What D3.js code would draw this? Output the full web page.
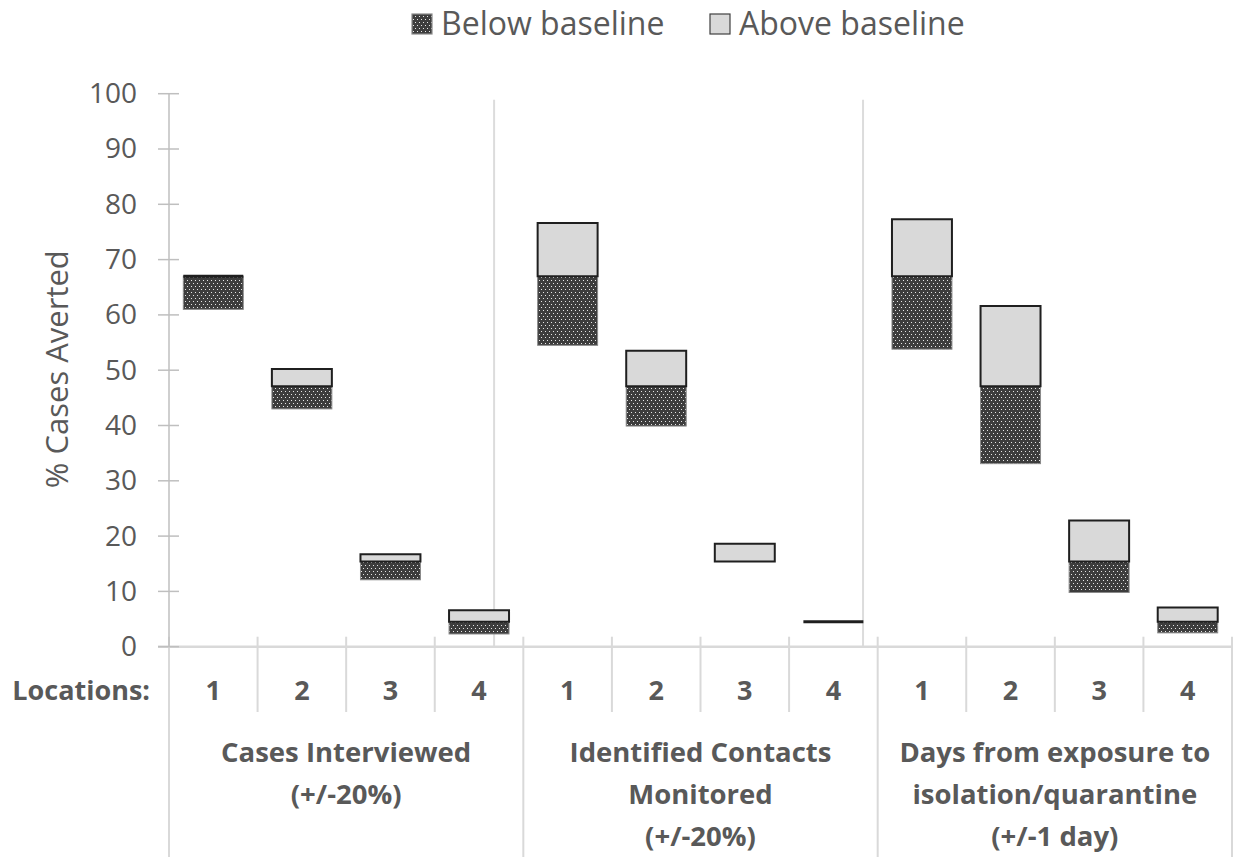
<!DOCTYPE html>
<html>
<head>
<meta charset="utf-8">
<script src="https://cdn.jsdelivr.net/npm/d3@7"></script>
<style>
  html, body { margin: 0; padding: 0; background: #fff; }
  svg { display: block; }
  text { font-family: "Open Sans", "Noto Sans", sans-serif; fill: #595959; }
</style>
</head>
<body>
<svg id="chart" width="1233" height="857"></svg>
<script>
// ---- data ----
const groupLabels = [
  ["Cases Interviewed", "(+/-20%)"],
  ["Identified Contacts", "Monitored", "(+/-20%)"],
  ["Days from exposure to", "isolation/quarantine", "(+/-1 day)"]
];
const locations = ["1", "2", "3", "4"];
const seriesNames = ["Below baseline", "Above baseline"];
// lower bound of the range (start of "Below baseline" segment)
const lowValues = [61.0, 43.0, 12.1, 2.3, 54.5, 39.9, 15.4, 4.5, 53.8, 33.1, 9.8, 2.5];
// baseline (boundary between the two segments)
const baselineValues = [67.0, 47.1, 15.4, 4.5, 67.0, 47.1, 15.4, 4.5, 67.0, 47.1, 15.4, 4.5];
// upper bound of the range (end of "Above baseline" segment)
const highValues = [67.0, 50.2, 16.7, 6.6, 76.6, 53.5, 18.6, 4.5, 77.3, 61.6, 22.8, 7.1];
const yTicks = [0, 10, 20, 30, 40, 50, 60, 70, 80, 90, 100];

(function () {
// ---- layout ----
const W = 1233, H = 857;
const pLeft = 169, pRight = 1232, pTop = 93.7, pBottom = 646.7;
const svg = d3.select("#chart");

const cats = [];
groupLabels.forEach((g, gi) => locations.forEach((l, li) => cats.push({ key: gi + "-" + li, gi, li, loc: l })));

const x = d3.scaleBand().domain(cats.map(c => c.key)).range([pLeft, pRight]).paddingInner(0).paddingOuter(0);
const y = d3.scaleLinear().domain([0, 100]).range([pBottom, pTop]);
const bw = x.bandwidth();
const barW = bw * 0.677;

// pattern
const defs = svg.append("defs");
const pat = defs.append("pattern").attr("id", "dots").attr("patternUnits", "userSpaceOnUse")
  .attr("width", 4).attr("height", 6);
pat.append("rect").attr("width", 4).attr("height", 6).attr("fill", "#3d3d3d");
pat.append("rect").attr("x", 1).attr("y", 1).attr("width", 1).attr("height", 1).attr("fill", "#e6e6e6");
pat.append("rect").attr("x", 3).attr("y", 4).attr("width", 1).attr("height", 1).attr("fill", "#e6e6e6");

const gridColor = "#d9d9d9";

// decorative group dividers inside plot area
[[3, 0.67], [7, 0.835]].forEach(([i, f]) => {
  const xx = x(cats[i].key) + bw * f;
  svg.append("line").attr("x1", xx).attr("x2", xx).attr("y1", y(98.9)).attr("y2", pBottom)
    .attr("stroke", "#dcdcdc").attr("stroke-width", 2);
});

// x axis line
svg.append("line").attr("x1", pLeft - 11).attr("x2", pRight).attr("y1", pBottom).attr("y2", pBottom)
  .attr("stroke", gridColor).attr("stroke-width", 2.5);

// category separators (short) and group separators (long)
d3.range(cats.length + 1).forEach(i => {
  const xx = i < cats.length ? x(cats[i].key) : pRight;
  const isGroup = i % 4 === 0;
  svg.append("line").attr("x1", xx).attr("x2", xx)
    .attr("y1", pBottom - 10).attr("y2", isGroup ? H : 712)
    .attr("stroke", gridColor).attr("stroke-width", 2);
});

// y axis
const yAxis = d3.axisLeft(y).tickValues(yTicks).tickSize(0).tickPadding(32);
const yg = svg.append("g").attr("transform", `translate(${pLeft},0)`).call(yAxis);
yg.select(".domain").remove();
yg.selectAll("text").style("font-size", "28px").style("font-family", "'Open Sans'").attr("fill", "#595959");
svg.append("line").attr("x1", pLeft).attr("x2", pLeft).attr("y1", pTop).attr("y2", pBottom)
  .attr("stroke", "#bfbfbf").attr("stroke-width", 1.5);
yTicks.forEach(t => {
  svg.append("line").attr("x1", pLeft - 11).attr("x2", pLeft + 10).attr("y1", y(t)).attr("y2", y(t))
    .attr("stroke", "#bfbfbf").attr("stroke-width", 1.5);
});

// y axis title
svg.append("text").attr("transform", `translate(68,${(pTop + pBottom) / 2 - 1}) rotate(-90)`)
  .attr("text-anchor", "middle").style("font-size", "31px").text("% Cases Averted");

// bars
const bars = svg.append("g");
cats.forEach((c, i) => {
  const x0 = x(c.key) + (bw - barW) / 2;
  const lo = lowValues[i], base = baselineValues[i], hi = highValues[i];
  if (base - lo > 0.01) {
    bars.append("rect").attr("x", x0).attr("y", y(base)).attr("width", barW).attr("height", y(lo) - y(base))
      .attr("fill", "url(#dots)").attr("stroke", "#8a8a8a").attr("stroke-width", 1);
  }
  const yTop = y(hi), yBot = y(base);
  const flat = hi - base < 0.01;
  bars.append("path")
    .attr("d", `M${x0},${yBot}H${x0 + barW}V${yTop}H${x0}Z`)
    .attr("fill", "#d9d9d9").attr("stroke", "#1f1f1f").attr("stroke-width", flat ? 3 : 2);
});

// location labels
svg.append("text").attr("x", 150).attr("y", 700).attr("text-anchor", "end")
  .style("font-size", "27px").style("font-weight", "bold").text("Locations:");
cats.forEach(c => {
  svg.append("text").attr("x", x(c.key) + bw / 2).attr("y", 700).attr("text-anchor", "middle")
    .style("font-size", "27px").style("font-weight", "bold").text(c.loc);
});

// group labels
groupLabels.forEach((lines, gi) => {
  const gx0 = x(gi + "-0"), gx1 = x(gi + "-3") + bw;
  const cx = (gx0 + gx1) / 2;
  lines.forEach((ln, k) => {
    svg.append("text").attr("x", cx).attr("y", 762 + k * 42).attr("text-anchor", "middle")
      .style("font-size", "27.5px").style("font-weight", "bold").text(ln);
  });
});

// legend
const legend = svg.append("g");
const legItems = [
  { name: seriesNames[0], fill: "url(#dots)", stroke: "#8a8a8a", x: 412 },
  { name: seriesNames[1], fill: "#d9d9d9", stroke: "#404040", x: 710 }
];
legItems.forEach(it => {
  legend.append("rect").attr("x", it.x).attr("y", 14).attr("width", 20).attr("height", 20)
    .attr("fill", it.fill).attr("stroke", it.stroke).attr("stroke-width", 1.2);
  legend.append("text").attr("x", it.x + 29).attr("y", 35).style("font-size", "32px").text(it.name);
});
})();
</script>
</body>
</html>
